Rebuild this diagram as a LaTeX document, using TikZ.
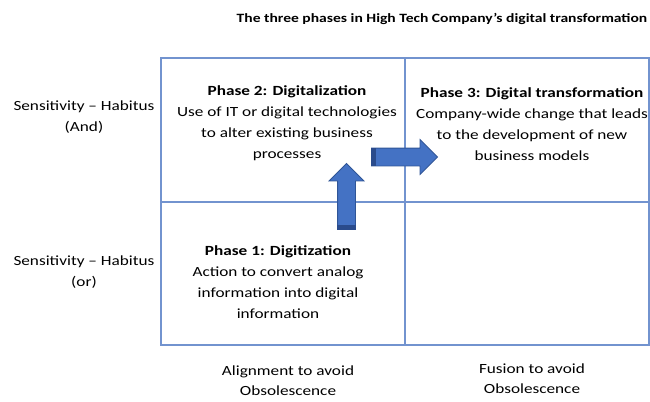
\documentclass[tikz,border=0pt]{standalone}
\usepackage{fontspec}
\setmainfont{Carlito}[FakeStretch=1.23]
\usetikzlibrary{shapes.arrows}
\definecolor{gridblue}{RGB}{114,147,207}
\definecolor{arrowblue}{RGB}{68,114,196}
\definecolor{edgeblue}{RGB}{47,85,151}
\definecolor{bandblue}{RGB}{42,75,140}
\begin{document}
\begin{tikzpicture}[x=0.75pt,y=-0.75pt,
    txt/.style={align=center,inner sep=0pt,anchor=base,font=\fontsize{10.5}{15.75}\selectfont},
    gridline/.style={gridblue,line width=1.1pt},
    blockarrow/.style={shape=single arrow,draw=edgeblue,fill=arrowblue,line width=0.6pt,inner xsep=0pt,inner ysep=6.375pt,
      minimum height=49.5pt,single arrow head extend=6.4pt}]
        \useasboundingbox (0,0) rectangle (650,401);

        \coordinate (nw) at (161,58);
        \coordinate (se) at (649,345);
        \coordinate (mid) at (405,202);
        \draw[gridline] (nw) rectangle (se);
        \draw[gridline] (mid |- nw) -- (mid |- se);
        \draw[gridline] (nw |- mid) -- (se |- mid);

        \node[txt,font=\fontsize{9.5}{15.75}\selectfont\bfseries] (title) at (442,22) {The three phases in High Tech Company’s digital transformation};

        \node[txt] (phase2) at (287,158) {\textbf{Phase 2: Digitalization}\\Use of IT or digital technologies\\to alter existing business\\processes};
        \node[txt] (phase3) at (532,160.5) {\textbf{Phase 3: Digital transformation}\\Company-wide change that leads\\to the development of new\\business models};
        \node[txt] (phase1) at (278,318) {\textbf{Phase 1: Digitization}\\Action to convert analog\\information into digital\\information};

        \node[txt] (rowand) at (84,131.5) {Sensitivity – Habitus\\(And)};
        \node[txt] (rowor) at (84,286.5) {Sensitivity – Habitus\\(or)};

        \node[txt,font=\fontsize{10.5}{15}\selectfont] (colalign) at (288,395.7) {Alignment to avoid\\Obsolescence};
        \node[txt,font=\fontsize{10.5}{15}\selectfont] (colfusion) at (532,393.7) {Fusion to avoid\\Obsolescence};

        \node[blockarrow,rotate=90] (uparrow) at (346.5,201) {};
        \node[blockarrow] (rightarrow) at (400,157) {};
        \fill[bandblue] (uparrow.before tail) rectangle ([yshift=4pt]uparrow.after tail);
        \fill[bandblue] (rightarrow.before tail) rectangle ([xshift=4pt]rightarrow.after tail);
\end{tikzpicture}
\end{document}
